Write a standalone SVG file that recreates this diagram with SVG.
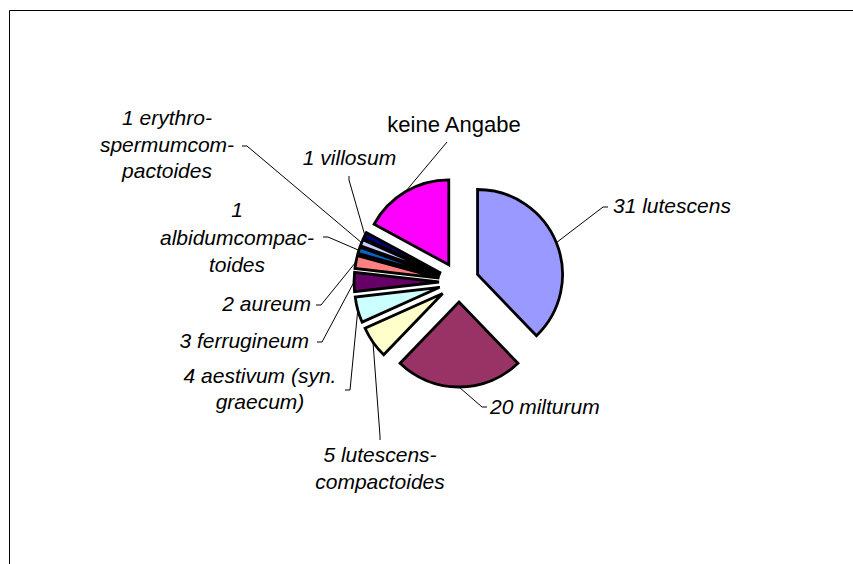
<svg xmlns="http://www.w3.org/2000/svg" width="853" height="564" viewBox="0 0 853 564">
<style>
.s{stroke:#000;stroke-width:2.8;stroke-linejoin:miter}
.t{font-family:"Liberation Sans",Arial,sans-serif;font-size:21px;font-style:italic;fill:#000}
.n{font-style:normal;font-size:22px}
.l{fill:none;stroke:#000;stroke-width:1}
</style>
<rect width="853" height="564" fill="#fff"/>
<g id="frame"><path d="M9.5,564 L9.5,10.5 L853,10.5" fill="none" stroke="#000" stroke-width="1"/></g>
<g id="connectors">
<polyline class="l" points="556.3,242.7 603,207 608,207"/>
<polyline class="l" points="459,387 482,407 487,407"/>
<polyline class="l" points="373,342.4 380,436 380,440"/>
<polyline class="l" points="357.8,309.8 350,390 345,390"/>
<polyline class="l" points="354,282 322,342 317,342"/>
<polyline class="l" points="355.9,262 321,305 316,305"/>
<polyline class="l" points="358.9,250.3 328,237 323,237"/>
<polyline class="l" points="361.6,242.7 247,146 242,146"/>
<polyline class="l" points="364.9,235.4 349,180 349,176"/>
<polyline class="l" points="405.3,191.8 447,142"/>
</g>
<g id="slice-lutescens"><path class="s" fill="#9999FF" d="M477.55,274.52 L477.55,189.52 A85,85 0 0 1 536.48,335.78 Z"/></g>
<g id="slice-milturum"><path class="s" fill="#993366" d="M459,302 L517.93,363.26 A85,85 0 0 1 400.07,363.26 Z"/></g>
<g id="slice-lutescens-compactoides"><path class="s" fill="#FFFFCC" d="M442.64,293.51 L383.71,354.77 A85,85 0 0 1 365.08,328.28 Z"/></g>
<g id="slice-aestivum"><path class="s" fill="#CCFFFF" d="M439.71,287.3 L362.15,322.07 A85,85 0 0 1 355.27,297.05 Z"/></g>
<g id="slice-ferrugineum"><path class="s" fill="#660066" d="M439,282 L354.56,291.75 A85,85 0 0 1 354.56,272.25 Z"/></g>
<g id="slice-aureum"><path class="s" fill="#FF8080" d="M439.37,278.19 L354.93,268.44 A85,85 0 0 1 357.41,255.67 Z"/></g>
<g id="slice-albidumcompactoides"><path class="s" fill="#0066CC" d="M439.93,275.97 L357.97,253.45 A85,85 0 0 1 359.93,247.23 Z"/></g>
<g id="slice-erythrospermumcompactoides"><path class="s" fill="#CCCCFF" d="M440.45,274.52 L360.45,245.78 A85,85 0 0 1 362.89,239.75 Z"/></g>
<g id="slice-villosum"><path class="s" fill="#000080" d="M441.08,273.13 L363.52,238.36 A85,85 0 0 1 366.41,232.53 Z"/></g>
<g id="slice-keine-angabe"><path class="s" fill="#FF00FF" d="M448.78,264.81 L374.11,224.21 A85,85 0 0 1 448.78,179.81 Z"/></g>
<g id="labels">
<text class="t" x="613" y="213">31 lutescens</text>
<text class="t" x="490" y="414">20 milturum</text>
<text class="t n" x="454" y="132" text-anchor="middle">keine Angabe</text>
<text class="t" x="349.5" y="165" text-anchor="middle">1 villosum</text>
<text class="t" text-anchor="middle"><tspan x="167" y="125">1 erythro-</tspan><tspan x="167" y="152">spermumcom-</tspan><tspan x="167" y="178">pactoides</tspan></text>
<text class="t" text-anchor="middle"><tspan x="237" y="217">1</tspan><tspan x="237" y="244.5">albidumcompac-</tspan><tspan x="237" y="272">toides</tspan></text>
<text class="t" x="311" y="311" text-anchor="end">2 aureum</text>
<text class="t" x="309" y="348" text-anchor="end">3 ferrugineum</text>
<text class="t" text-anchor="middle"><tspan x="260" y="383">4 aestivum (syn.</tspan><tspan x="260" y="409">graecum)</tspan></text>
<text class="t" text-anchor="middle"><tspan x="380" y="462">5 lutescens-</tspan><tspan x="380" y="489">compactoides</tspan></text>
</g>
</svg>
